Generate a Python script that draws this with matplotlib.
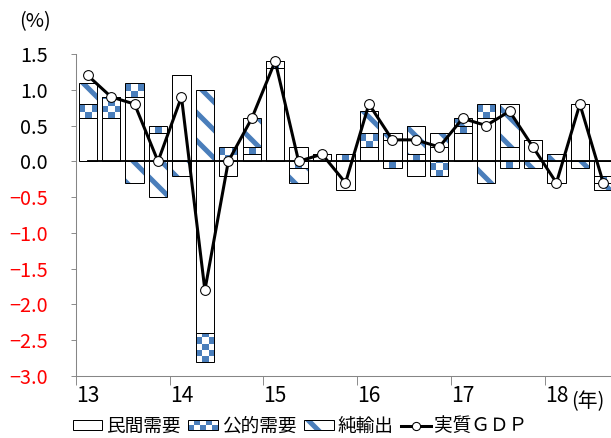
import numpy as np
import matplotlib
matplotlib.use("Agg")
import matplotlib.pyplot as plt
from matplotlib.colors import ListedColormap
from matplotlib.patches import Rectangle, Patch
from matplotlib.lines import Line2D
from matplotlib.legend_handler import HandlerBase

plt.rcParams['font.family'] = ['Noto Sans CJK JP', 'DejaVu Sans']
plt.rcParams['hatch.linewidth'] = 4.3

BLUE = "#4a7ebb"
GRAY = "#868686"
DPI = 84

# quarterly contributions, 2013 Q1 - 2018 Q3 (%)
years = ["13", "14", "15", "16", "17", "18"]
private = [0.6, 0.6, 0.9, 0.4, 1.2, -2.4, -0.2, 0.1, 1.3, 0.2, 0.1, -0.4,
           0.2, 0.3, -0.2, 0.2, 0.4, 0.6, 0.2, 0.3, -0.3, 0.8, -0.2]
public = [0.2, 0.3, 0.2, 0.1, 0.0, -0.4, 0.2, 0.1, 0.1, -0.1, 0.0, 0.1,
          0.2, -0.1, 0.1, -0.2, 0.1, 0.2, -0.1, 0.0, 0.0, 0.0, -0.1]
net_exports = [0.3, 0.0, -0.3, -0.5, -0.2, 1.0, 0.0, 0.4, 0.0, -0.2, 0.0, 0.0,
               0.3, 0.1, 0.4, 0.2, 0.1, -0.3, 0.6, -0.1, 0.1, -0.1, -0.1]
gdp = [1.2, 0.9, 0.8, 0.0, 0.9, -1.8, 0.0, 0.6, 1.4, 0.0, 0.1, -0.3,
       0.8, 0.3, 0.3, 0.2, 0.6, 0.5, 0.7, 0.2, -0.3, 0.8, -0.3]
yticks = [1.5, 1.0, 0.5, 0.0, -0.5, -1.0, -1.5, -2.0, -2.5, -3.0]

n = len(gdp)
x = np.arange(n)
W = 0.78

fig = plt.figure(figsize=(611 / DPI, 438 / DPI), dpi=DPI)
ax = fig.add_axes([76 / 611, 62 / 438, (615 - 76) / 611, 322 / 438])

# stacked bars: positives upward, negatives downward, in series order
pos = np.zeros(n)
neg = np.zeros(n)
stacks = []
for vals in (private, public, net_exports):
    v = np.array(vals)
    base = np.where(v >= 0, pos, neg)
    stacks.append((v, base))
    pos = pos + np.where(v >= 0, v, 0)
    neg = neg + np.where(v < 0, v, 0)

(pv, pb), (gv, gb), (nv, nb) = stacks
ax.bar(x, pv, W, bottom=pb, color="white", lw=0, zorder=2)
pub_bars = ax.bar(x, gv, W, bottom=gb, color="white", lw=0, zorder=2)
ax.bar(x, nv, W, bottom=nb, color="white", edgecolor=BLUE, hatch="\\", lw=0, zorder=2)

# checkered fill for public demand
checker = ListedColormap(["white", BLUE])
sq = 0.085
for rect in pub_bars:
    h = rect.get_height()
    if h == 0:
        continue
    x0, y0, w = rect.get_x(), rect.get_y(), rect.get_width()
    lo = min(y0, y0 + h)
    ny = int(np.ceil(abs(h) / sq)) + 1
    board = np.add.outer(np.arange(ny), np.arange(3)) % 2
    im = ax.imshow(board, cmap=checker, extent=(x0, x0 + w, lo, lo + ny * sq),
                   origin="lower", interpolation="nearest", aspect="auto", zorder=2.2)
    im.set_clip_path(rect)

# outlines on top
for v, b in stacks:
    ax.bar(x, v, W, bottom=b, fill=False, edgecolor="black", lw=0.85, zorder=3)

ax.plot([0, n], [0, 0], color="black", lw=1.6, zorder=3.5)
ax.plot(x, gdp, color="black", lw=2.6, marker="o", ms=8.4, mfc="white",
        mec="black", mew=0.9, zorder=4)

ax.set_xlim(-0.5, n - 0.5)
ax.set_ylim(-3.0, 1.5)
for s in ("top", "right"):
    ax.spines[s].set_visible(False)
for s in ("left", "bottom"):
    ax.spines[s].set_color(GRAY)
    ax.spines[s].set_linewidth(0.9)

ax.set_yticks(yticks)
ax.set_yticklabels([f"{t:.1f}".replace("-", "−") for t in yticks])
for lab, t in zip(ax.get_yticklabels(), yticks):
    lab.set_color("red" if t < 0 else "black")
ax.tick_params(axis="y", direction="out", length=4.3, color=GRAY, pad=20, labelsize=17)

ax.set_xticks(np.arange(-0.5, n, 4))
ax.set_xticklabels([])
ax.set_xticks(np.arange(0, n, 4), minor=True)
ax.set_xticklabels(years, minor=True)
ax.tick_params(axis="x", which="major", direction="out", length=7.7, color=GRAY)
ax.tick_params(axis="x", which="minor", length=0, pad=8, labelsize=18)

fig.text(35 / 611, 1 - 22 / 438, "(%)", ha="center", va="center", fontsize=17)
fig.text(571 / 611, 1 - 402 / 438, "(年)", ha="left", va="center", fontsize=17)


class CheckerHandler(HandlerBase):
    def create_artists(self, legend, orig_handle, xdescent, ydescent,
                       width, height, fontsize, trans):
        x0, y0 = -xdescent, -ydescent
        arts = [Rectangle((x0, y0), width, height, fc=BLUE, ec="none", transform=trans)]
        cw, ch = width / 5, height / 2
        for i in range(5):
            for j in range(2):
                if (i + j) % 2:
                    arts.append(Rectangle((x0 + i * cw, y0 + j * ch), cw, ch,
                                          fc="white", ec="none", transform=trans))
        arts.append(Rectangle((x0, y0), width, height, fc="none", ec="black",
                              lw=0.85, transform=trans))
        return arts


h_priv = Patch(fc="white", ec="black", lw=0.85)
h_pub = Patch(fc=BLUE)
h_net = (Patch(fc="white", ec=BLUE, hatch="\\", lw=0), Patch(fill=False, ec="black", lw=0.85))
h_gdp = Line2D([], [], color="black", lw=2.6, marker="o", ms=7, mfc="white", mec="black", mew=0.9)
fig.legend([h_priv, h_pub, h_net, h_gdp], ["民間需要", "公的需要", "純輸出", "実質ＧＤＰ"],
           loc="lower center", bbox_to_anchor=(300 / 611, -0.022), ncol=4, frameon=False,
           fontsize=16, handlelength=1.6, handleheight=0.45, handletextpad=0.2,
           columnspacing=0.4, borderaxespad=0.2,
           handler_map={h_pub: CheckerHandler()})

fig.savefig("out.png", dpi=DPI)
